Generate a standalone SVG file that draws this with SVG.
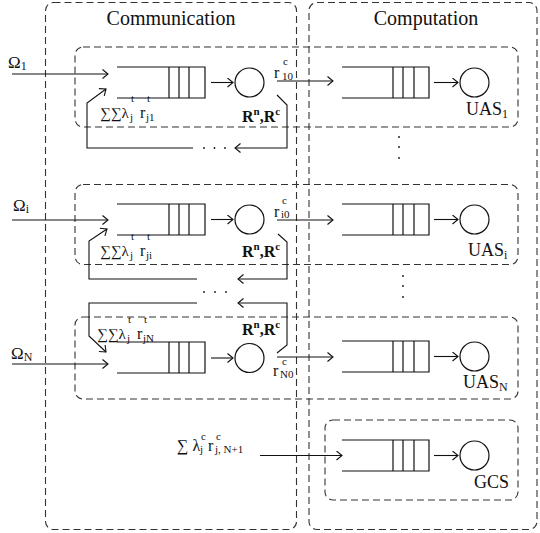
<svg xmlns="http://www.w3.org/2000/svg" width="540" height="533" viewBox="0 0 540 533">
<defs>
<style>
.dash{fill:none;stroke:#333;stroke-width:1.1;stroke-dasharray:7 4}
.arr{fill:none;stroke:#111;stroke-width:1.1;marker-end:url(#ah)}
.q{fill:none;stroke:#111;stroke-width:1.2}
.t{font-family:"Liberation Serif","Times New Roman",serif;fill:#111}
.title{font-size:20px}
.lab{font-size:18px}
.om{font-size:17px}
.sm{font-size:16px}
.sg{font-size:15px}
.ss{font-size:11px}
.bold{font-weight:bold;font-size:16px}
.dot{fill:#111}
</style>
<marker id="ah" markerUnits="userSpaceOnUse" markerWidth="10" markerHeight="12" refX="6" refY="5" orient="auto">
<path d="M0.5,0.5 L6,5 L0.5,9.5" fill="none" stroke="#111" stroke-width="1.1"/>
</marker>
</defs>
<rect width="540" height="533" fill="#fff"/>

<g id="communication">
<rect class="dash" x="45.5" y="2.5" width="251" height="527" rx="8"/>
<text class="t title" x="171" y="25" text-anchor="middle">Communication</text>
</g>
<g id="computation">
<rect class="dash" x="309" y="2.5" width="228" height="527" rx="8"/>
<text class="t title" x="426" y="25" text-anchor="middle">Computation</text>
</g>

<g id="row1">
<rect class="dash" x="75" y="47" width="443" height="80" rx="8"/>
</g>
<g id="rowi">
<rect class="dash" x="75" y="184.5" width="443" height="80" rx="8"/>
</g>
<g id="rowN">
<rect class="dash" x="75" y="317" width="443" height="82" rx="8"/>
</g>
<g id="gcsbox">
<rect class="dash" x="325" y="420" width="193" height="80" rx="8"/>
</g>

<g id="queue1">
<path class="q" d="M117,67 H205 V98 H117 M169,67 V98 M179,67 V98 M189,67 V98"/>
</g>
<g id="server1">
<circle class="q" cx="249.5" cy="82.5" r="14.5"/>
<text class="t bold" x="242" y="122">R<tspan font-size="11" dy="-7">n</tspan><tspan dy="7">,R</tspan><tspan font-size="11" dy="-7">c</tspan></text>
</g>
<g id="queuei">
<path class="q" d="M117,204 H205 V235 H117 M169,204 V235 M179,204 V235 M189,204 V235"/>
</g>
<g id="serveri">
<circle class="q" cx="249.5" cy="219.5" r="14.5"/>
<text class="t bold" x="242" y="257">R<tspan font-size="11" dy="-7">n</tspan><tspan dy="7">,R</tspan><tspan font-size="11" dy="-7">c</tspan></text>
</g>
<g id="queueN">
<path class="q" d="M117,342 H205 V373 H117 M169,342 V373 M179,342 V373 M189,342 V373"/>
</g>
<g id="serverN">
<circle class="q" cx="249.5" cy="358" r="14.5"/>
<text class="t bold" x="242" y="335">R<tspan font-size="11" dy="-7">n</tspan><tspan dy="7">,R</tspan><tspan font-size="11" dy="-7">c</tspan></text>
</g>

<g id="uasq1">
<path class="q" d="M342,67 H429 V98 H342 M393,67 V98 M403,67 V98 M414,67 V98"/>
</g>
<g id="uas1">
<circle class="q" cx="474.5" cy="82.5" r="14.5"/>
<text class="t lab" x="466" y="115">UAS<tspan font-size="12" dy="3">1</tspan></text>
</g>
<g id="uasqi">
<path class="q" d="M342,204 H429 V235 H342 M393,204 V235 M403,204 V235 M414,204 V235"/>
</g>
<g id="uasi">
<circle class="q" cx="474.5" cy="219.5" r="14.5"/>
<text class="t lab" x="468" y="256">UAS<tspan font-size="12" dy="3">i</tspan></text>
</g>
<g id="uasqN">
<path class="q" d="M342,341 H429 V372 H342 M393,341 V372 M403,341 V372 M414,341 V372"/>
</g>
<g id="uasN">
<circle class="q" cx="474.5" cy="356.5" r="14.5"/>
<text class="t lab" x="463" y="388">UAS<tspan font-size="12" dy="3">N</tspan></text>
</g>
<g id="gcsq">
<path class="q" d="M342,440 H429 V471 H342 M393,440 V471 M403,440 V471 M414,440 V471"/>
</g>
<g id="gcs">
<circle class="q" cx="474.5" cy="455.5" r="14.5"/>
<text class="t lab" x="474" y="488">GCS</text>
</g>

<g id="connectors">
<line class="arr" x1="12" y1="74" x2="108" y2="74"/>
<line class="arr" x1="12" y1="220" x2="108" y2="220"/>
<line class="arr" x1="12" y1="364" x2="108" y2="364"/>
<line class="arr" x1="211" y1="82.5" x2="233" y2="82.5"/>
<line class="arr" x1="211" y1="219.5" x2="233" y2="219.5"/>
<line class="arr" x1="211" y1="358" x2="233" y2="358"/>
<line class="arr" x1="434" y1="82.5" x2="458" y2="82.5"/>
<line class="arr" x1="434" y1="219.5" x2="458" y2="219.5"/>
<line class="arr" x1="434" y1="356.5" x2="458" y2="356.5"/>
<line class="arr" x1="434" y1="455.5" x2="458" y2="455.5"/>
<line class="arr" x1="277" y1="81" x2="333" y2="81"/>
<line class="arr" x1="277" y1="220" x2="333" y2="220"/>
<line class="arr" x1="277" y1="357" x2="333" y2="357"/>
<line class="arr" x1="260" y1="455.5" x2="342" y2="455.5"/>
<path class="arr" d="M277,95 L287,105 V148 H235"/>
<path class="arr" d="M193,148 H87 V103 L106,89"/>
<path class="arr" d="M278,234 L287,242 V279 H238"/>
<path class="arr" d="M197,279 H89 V241 L107,229"/>
<path class="arr" d="M277,353 L287,345 V303 H238"/>
<path class="arr" d="M197,303 H89 V336 L106,352"/>
</g>

<g id="dots">
<circle class="dot" cx="204" cy="148" r="0.9"/>
<circle class="dot" cx="214.5" cy="148" r="0.9"/>
<circle class="dot" cx="225" cy="148" r="0.9"/>
<circle class="dot" cx="204" cy="292" r="0.9"/>
<circle class="dot" cx="215" cy="292" r="0.9"/>
<circle class="dot" cx="226" cy="292" r="0.9"/>
<circle class="dot" cx="399" cy="137" r="0.9"/>
<circle class="dot" cx="399" cy="147" r="0.9"/>
<circle class="dot" cx="399" cy="158" r="0.9"/>
<circle class="dot" cx="403" cy="276" r="0.9"/>
<circle class="dot" cx="403" cy="286" r="0.9"/>
<circle class="dot" cx="403" cy="297" r="0.9"/>
</g>

<g id="labels">
<text class="t om" x="8" y="68">Ω<tspan font-size="12" dy="2">1</tspan></text>
<text class="t om" x="13" y="211">Ω<tspan font-size="12" dy="2">i</tspan></text>
<text class="t om" x="11" y="359">Ω<tspan font-size="12" dy="2">N</tspan></text>

<text class="t sg" x="100" y="118">∑∑λ<tspan class="ss" x="131" y="102">t</tspan><tspan class="ss" x="130" y="121">j</tspan><tspan class="sm" x="140" y="118">r</tspan><tspan class="ss" x="147" y="102">t</tspan><tspan class="ss" x="146" y="121">j1</tspan></text>

<text class="t sg" x="100" y="256">∑∑λ<tspan class="ss" x="131" y="240">t</tspan><tspan class="ss" x="130" y="259">j</tspan><tspan class="sm" x="140" y="256">r</tspan><tspan class="ss" x="147" y="240">t</tspan><tspan class="ss" x="146" y="259">ji</tspan></text>

<text class="t sg" x="97" y="339">∑∑λ<tspan class="ss" x="128" y="323">t</tspan><tspan class="ss" x="127" y="342">j</tspan><tspan class="sm" x="137" y="339">r</tspan><tspan class="ss" x="144" y="323">t</tspan><tspan class="ss" x="143" y="342">jN</tspan></text>

<text class="t sm" x="274" y="78">r<tspan class="ss" x="283" y="65">c</tspan><tspan class="ss" x="282" y="80">10</tspan></text>

<text class="t sm" x="274" y="217">r<tspan class="ss" x="282" y="204">c</tspan><tspan class="ss" x="281" y="218">i0</tspan></text>

<text class="t sm" x="273" y="376">r<tspan class="ss" x="282" y="365">c</tspan><tspan class="ss" x="280" y="378">N0</tspan></text>

<text class="t sm" x="177" y="451">∑ λ<tspan class="ss" x="201" y="440">c</tspan><tspan class="ss" x="200" y="453">j</tspan><tspan x="208" y="451">r</tspan><tspan class="ss" x="216" y="440">c</tspan><tspan class="ss" x="215" y="453">j, N+1</tspan></text>
</g>
</svg>
